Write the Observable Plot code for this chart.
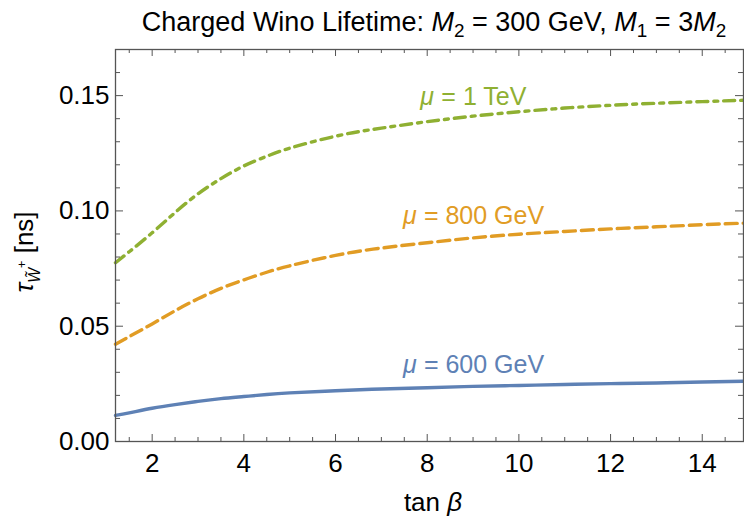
<!DOCTYPE html>
<html><head><meta charset="utf-8">
<script src="https://cdn.jsdelivr.net/npm/d3@7"></script>
<script src="https://cdn.jsdelivr.net/npm/@observablehq/plot@0.6"></script>
<style>
body{margin:0;background:#fff}
</style>
</head><body><div id="chart"></div>
<script>
// ---- data ----
const tanBeta = [1.2, 1.5, 2, 2.5, 3, 3.5, 4, 4.5, 5, 6, 7, 8, 9, 10, 11, 12, 13, 14, 14.9];
const tau600  = [0.0113, 0.0124, 0.0144, 0.0160, 0.0174, 0.0186, 0.0195, 0.0204, 0.0211, 0.0220, 0.0228, 0.0233, 0.0239, 0.0243, 0.0247, 0.0251, 0.0254, 0.0258, 0.0261];
const tau800  = [0.0422, 0.0455, 0.0510, 0.0567, 0.0619, 0.0664, 0.0701, 0.0734, 0.0762, 0.0807, 0.0839, 0.0862, 0.0883, 0.0899, 0.0911, 0.0922, 0.0931, 0.0940, 0.0947];
const tau1000 = [0.0775, 0.0823, 0.0905, 0.0993, 0.1074, 0.1140, 0.1195, 0.1237, 0.1272, 0.1324, 0.1359, 0.1387, 0.1411, 0.1430, 0.1446, 0.1458, 0.1467, 0.1474, 0.1480];
const seriesRest = ["= 600 GeV", "= 800 GeV", "= 1 TeV"];
const labelX = [7.47, 7.47, 7.85];
const labelY = [0.0296, 0.0943, 0.1461];
const xTicks = [2, 4, 6, 8, 10, 12, 14];
const xMinor = [1.5, 2.5, 3, 3.5, 4.5, 5, 5.5, 6.5, 7, 7.5, 8.5, 9, 9.5, 10.5, 11, 11.5, 12.5, 13, 13.5, 14.5];
const yTicks = [0, 0.05, 0.10, 0.15];
const yMinor = [0.01, 0.02, 0.03, 0.04, 0.06, 0.07, 0.08, 0.09, 0.11, 0.12, 0.13, 0.14, 0.16];

// ---- styling ----
const colors = ["#5E81B5", "#E19C24", "#8FB032"];
const dashes = [null, "12,6", "11,6,4,6"];
const series = [tau600, tau800, tau1000];
const W = 744, H = 517, mL = 115, mR = 1, mT = 49, mB = 76;
const fw = W - mL - mR, fh = H - mT - mB;
const frameColor = "#555";
const fs = 25;
const font = "'Liberation Sans', Arial, sans-serif";

const lineMarks = series.map((vals, i) =>
  Plot.line(tanBeta.map((t, j) => ({t, v: vals[j]})), {
    x: "t", y: "v", stroke: colors[i], strokeWidth: 3.4,
    strokeDasharray: dashes[i], curve: "natural"
  })
);
const labels = seriesRest.map((s, i) => ({x: labelX[i], y: labelY[i], rest: s, c: colors[i]}));

const chart = Plot.plot({
  width: W, height: H,
  marginLeft: mL, marginRight: mR, marginTop: mT, marginBottom: mB,
  style: {fontFamily: font, background: "#fff", overflow: "visible"},
  x: {domain: [1.2, 14.9]},
  y: {domain: [0, 0.17]},
  marks: [
    ...lineMarks,
    Plot.text(labels, {x: "x", y: "y", text: () => "μ", fill: "c", fontSize: fs, fontStyle: "italic", textAnchor: "start", lineAnchor: "bottom"}),
    Plot.text(labels, {x: "x", y: "y", text: "rest", fill: "c", fontSize: fs, textAnchor: "start", lineAnchor: "bottom", dx: 21}),
    Plot.frame({stroke: frameColor, strokeWidth: 1.3}),
    Plot.tickX(xTicks, {x: d => d, stroke: frameColor, insetTop: fh - 7}),
    Plot.tickX(xTicks, {x: d => d, stroke: frameColor, insetBottom: fh - 7}),
    Plot.tickX(xMinor, {x: d => d, stroke: frameColor, insetTop: fh - 4}),
    Plot.tickX(xMinor, {x: d => d, stroke: frameColor, insetBottom: fh - 4}),
    Plot.tickY(yTicks, {y: d => d, stroke: frameColor, insetRight: fw - 8}),
    Plot.tickY(yTicks, {y: d => d, stroke: frameColor, insetLeft: fw - 8}),
    Plot.tickY(yMinor, {y: d => d, stroke: frameColor, insetRight: fw - 5}),
    Plot.tickY(yMinor, {y: d => d, stroke: frameColor, insetLeft: fw - 5}),
    Plot.axisX(xTicks, {tickSize: 0, tickPadding: 12, fontSize: 26, fill: "#000", label: null}),
    Plot.axisY(yTicks, {tickSize: 0, tickPadding: 6, fontSize: 26, fill: "#000", label: null, tickFormat: d3.format(".2f")})
  ]
});
document.getElementById("chart").appendChild(chart);

// ---- titles with italic / sub / superscript parts ----
const svg = d3.select(chart);
const title = svg.append("text").attr("x", 434).attr("y", 31).attr("text-anchor", "middle")
  .attr("font-size", 27).attr("fill", "#000").style("white-space", "pre");
title.append("tspan").text("Charged Wino Lifetime: ");
title.append("tspan").attr("font-style", "italic").text("M");
title.append("tspan").attr("font-size", "70%").attr("dy", 6).text("2");
title.append("tspan").attr("dy", -6).text(" = 300 GeV, ");
title.append("tspan").attr("font-style", "italic").text("M");
title.append("tspan").attr("font-size", "70%").attr("dy", 6).text("1");
title.append("tspan").attr("dy", -6).text(" = 3");
title.append("tspan").attr("font-style", "italic").text("M");
title.append("tspan").attr("font-size", "70%").attr("dy", 6).text("2");

const xl = svg.append("text").attr("x", 433).attr("y", 511).attr("text-anchor", "middle")
  .attr("font-size", 26).attr("fill", "#000").style("white-space", "pre");
xl.append("tspan").text("tan ");
xl.append("tspan").attr("font-style", "italic").text("β");

const yl = svg.append("text").attr("transform", "translate(33,252) rotate(-90)").attr("text-anchor", "middle")
  .attr("font-size", 26).attr("fill", "#000").style("white-space", "pre");
yl.append("tspan").attr("font-style", "italic").text("τ");
yl.append("tspan").attr("font-style", "italic").attr("font-size", "60%").attr("dy", 7).text("W\u0303");
yl.append("tspan").attr("font-size", "50%").attr("dy", -14).text("+");
yl.append("tspan").attr("dy", 7).text(" [ns]");
</script>
</body></html>
